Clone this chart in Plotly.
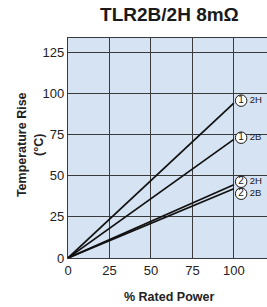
import plotly.graph_objects as go

# Data
series_names = ["1-2H", "1-2B", "2-2H", "2-2B"]
circle_nums = ["1", "1", "2", "2"]
suffixes = ["2H", "2B", "2H", "2B"]
rated_power = [0, 100]
end_rise = [94, 72, 44.5, 42]
label_y = [95.5, 73, 46.3, 39]
x_ticks = [0, 25, 50, 75, 100]
y_ticks = [0, 25, 50, 75, 100, 125]

fig = go.Figure()
for name, v in zip(series_names, end_rise):
    fig.add_trace(go.Scatter(x=rated_power, y=[0, v], mode="lines",
                             line=dict(color="#111", width=1.7),
                             name=name, showlegend=False, hoverinfo="skip"))

fig.add_trace(go.Scatter(x=[104.4] * 4, y=label_y, mode="markers+text",
                         text=circle_nums, textposition="middle center",
                         marker=dict(size=11.5, color="white",
                                     line=dict(color="#1a1a1a", width=1)),
                         textfont=dict(family="Liberation Sans", size=10, color="#1a1a1a"),
                         showlegend=False, hoverinfo="skip", cliponaxis=False))
fig.add_trace(go.Scatter(x=[109.6] * 4, y=label_y, mode="text",
                         text=suffixes, textposition="middle right",
                         textfont=dict(family="Liberation Sans", size=9.5, color="#1a1a1a"),
                         showlegend=False, hoverinfo="skip", cliponaxis=False))

fig.update_layout(
    width=267, height=307,
    margin=dict(l=68, r=0, t=38, b=49),
    paper_bgcolor="white", plot_bgcolor="#d6e3f2",
    font=dict(family="Liberation Sans", color="#222"),
    title=dict(text="<b>TLR2B/2H 8mΩ</b>", x=0.51, xref="paper", y=0.952, yref="container",
               xanchor="center", yanchor="middle",
               font=dict(family="Liberation Sans", size=19, color="#1a1a1a")),
)
fig.update_xaxes(range=[0, 120], tickvals=x_ticks, ticks="", showgrid=True,
                 gridcolor="#3a3a3a", gridwidth=1.2, zeroline=False,
                 showline=True, linecolor="#3a3a3a", linewidth=1.3, mirror=True,
                 tickfont=dict(size=13, color="#222"), fixedrange=True)
fig.update_yaxes(range=[0, 133.5], tickvals=y_ticks, ticks="", showgrid=True,
                 gridcolor="#3a3a3a", gridwidth=1.2, zeroline=False,
                 showline=True, linecolor="#3a3a3a", linewidth=1.3, mirror=True,
                 tickfont=dict(size=13, color="#222"), fixedrange=True)

fig.add_annotation(text="<b>Temperature Rise<br>(°C)</b>", xref="paper", yref="paper",
                   x=-0.19, y=0.514, textangle=-90, showarrow=False,
                   xanchor="center", yanchor="middle",
                   font=dict(family="Liberation Sans", size=12.5, color="#222"))
fig.add_annotation(text="<b>% Rated Power</b>", xref="paper", yref="paper",
                   x=0.51, y=-0.177, showarrow=False,
                   xanchor="center", yanchor="middle",
                   font=dict(family="Liberation Sans", size=12.5, color="#222"))

fig.write_html("out.html", config={"displayModeBar": False},
               post_script="document.body.style.margin='0';document.body.style.overflow='hidden';")
